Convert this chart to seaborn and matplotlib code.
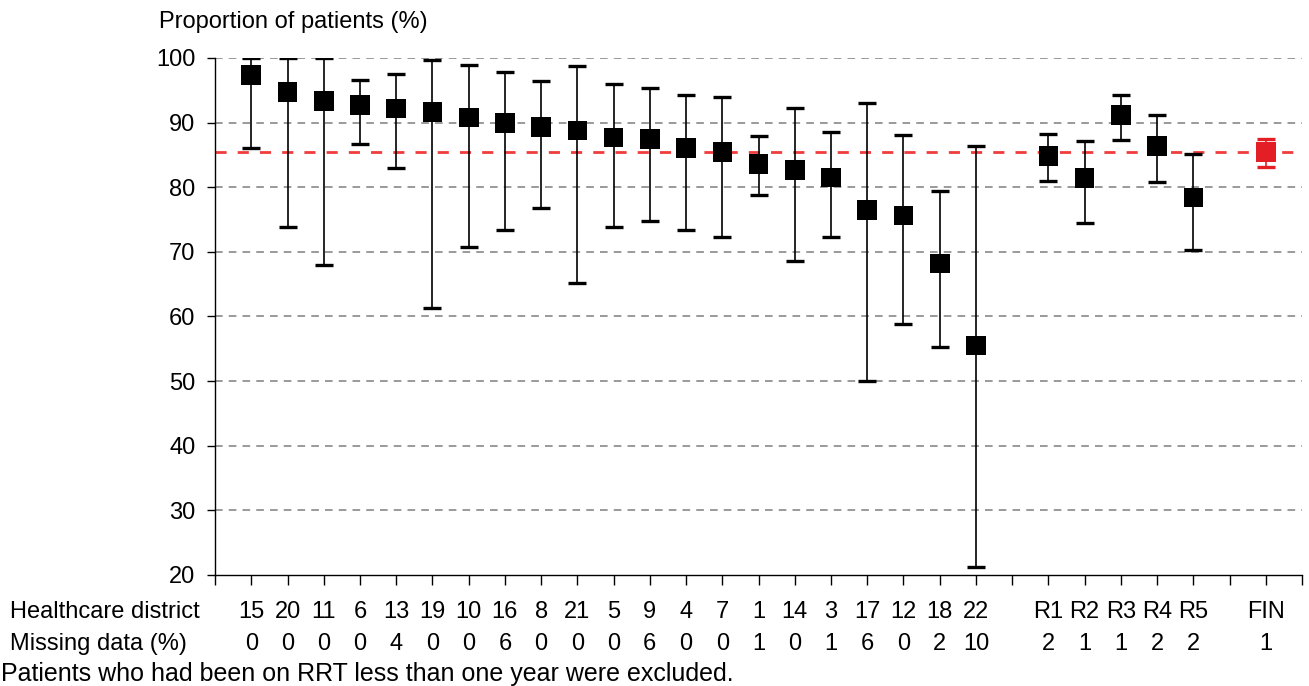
import pandas as pd
import matplotlib
matplotlib.use('Agg')
import matplotlib.pyplot as plt
import matplotlib.transforms as mtransforms
import seaborn as sns

# data
districts = ['15', '20', '11', '6', '13', '19', '10', '16', '8', '21', '5',
             '9', '4', '7', '1', '14', '3', '17', '12', '18', '22']
regions = ['R1', 'R2', 'R3', 'R4', 'R5']
missing_districts = [0, 0, 0, 0, 4, 0, 0, 6, 0, 0, 0, 6, 0, 0, 1, 0, 1, 6, 0, 2, 10]
missing_regions = [2, 1, 1, 2, 2]
missing_fin = 1

mean_districts = [97.4, 94.7, 93.3, 92.7, 92.2, 91.6, 90.8, 89.9, 89.3, 88.8, 87.7,
                  87.5, 86.1, 85.4, 83.6, 82.7, 81.5, 76.5, 75.6, 68.2, 55.5]
low_districts = [86.1, 73.9, 68.0, 86.7, 82.9, 61.3, 70.7, 73.4, 76.8, 65.2, 73.8,
                 74.7, 73.4, 72.3, 78.8, 68.6, 72.3, 50.0, 58.8, 55.3, 21.2]
high_districts = [100.0, 100.0, 100.0, 96.6, 97.5, 99.7, 98.9, 97.9, 96.5, 98.7, 95.9,
                  95.3, 94.2, 93.9, 87.9, 92.2, 88.6, 93.1, 88.1, 79.4, 86.3]

mean_regions = [84.8, 81.4, 91.2, 86.4, 78.4]
low_regions = [80.9, 74.4, 87.3, 80.8, 70.3]
high_regions = [88.3, 87.1, 94.2, 91.1, 85.1]

mean_fin = 85.4
low_fin = 83.2
high_fin = 87.5

# positions on the category axis (gaps between the groups)
pos_districts = list(range(1, 22))
pos_regions = list(range(23, 28))
pos_fin = 29

df = pd.DataFrame({
    'pos': pos_districts + pos_regions,
    'label': districts + regions,
    'missing': missing_districts + missing_regions,
    'mean': mean_districts + mean_regions,
    'low': low_districts + low_regions,
    'high': high_districts + high_regions,
})
fin = pd.DataFrame({'pos': [pos_fin], 'label': ['FIN'], 'missing': [missing_fin],
                    'mean': [mean_fin], 'low': [low_fin], 'high': [high_fin]})

sns.set_style('white')
plt.rcParams['font.family'] = ['Liberation Sans', 'DejaVu Sans']
plt.rcParams['text.color'] = 'black'
plt.rcParams['xtick.color'] = 'black'
plt.rcParams['ytick.color'] = 'black'

FS = 17

fig = plt.figure(figsize=(13.09, 6.86), dpi=100)
ax = fig.add_axes([0.1643, 0.162, 0.8304, 0.7535])

# gridlines
for v in range(30, 101, 10):
    ax.axhline(v, color='#7f7f7f', lw=1.1, ls=(0, (5, 4)), zorder=1)

# reference line (whole country)
ax.axhline(mean_fin, color='#f03c3c', lw=2, ls=(0, (4, 4)), zorder=2)

red = '#e31e24'
ax.errorbar(df['pos'], df['mean'],
            yerr=[df['mean'] - df['low'], df['high'] - df['mean']],
            fmt='none', ecolor='black', elinewidth=1.2, capsize=6.7, capthick=2.4, zorder=3)
ax.errorbar(fin['pos'], fin['mean'],
            yerr=[fin['mean'] - fin['low'], fin['high'] - fin['mean']],
            fmt='none', ecolor=red, elinewidth=1.2, capsize=6.7, capthick=2.4, zorder=3)

sns.scatterplot(data=df, x='pos', y='mean', marker='s', s=200, color='black',
                edgecolor='none', linewidth=0, ax=ax, zorder=4, legend=False)
sns.scatterplot(data=fin, x='pos', y='mean', marker='s', s=200, color=red,
                edgecolor='none', linewidth=0, ax=ax, zorder=4, legend=False)

ax.set_xlim(0, 30)
ax.set_ylim(20, 100)
ax.set_yticks(range(20, 101, 10))
ax.set_xticks(range(0, 31))
ax.set_xticklabels([])
ax.set_xlabel('')
ax.set_ylabel('')
ax.tick_params(axis='y', which='both', direction='out', length=6, width=1,
               labelsize=FS, left=True, pad=8)
ax.tick_params(axis='x', which='both', direction='out', length=7, width=1,
               bottom=True)
for side in ['top', 'right']:
    ax.spines[side].set_visible(False)
for side in ['left', 'bottom']:
    ax.spines[side].set_color('black')
    ax.spines[side].set_linewidth(1)

# labels under the axis
trans = mtransforms.blended_transform_factory(ax.transData, fig.transFigure)
all_rows = pd.concat([df, fin], ignore_index=True)
for _, r in all_rows.iterrows():
    ax.text(r['pos'], 0.108, r['label'], transform=trans, ha='center', va='center',
            fontsize=FS)
    ax.text(r['pos'], 0.061, str(r['missing']), transform=trans, ha='center',
            va='center', fontsize=FS)

fig.text(0.0076, 0.108, 'Healthcare district', ha='left', va='center', fontsize=FS)
fig.text(0.0076, 0.061, 'Missing data (%)', ha='left', va='center', fontsize=FS)
fig.text(0.001, 0.017, 'Patients who had been on RRT less than one year were excluded.',
         ha='left', va='center', fontsize=18)
fig.text(0.1215, 0.968, 'Proportion of patients (%)', ha='left', va='center', fontsize=FS)

fig.savefig('out.png', dpi=100)
plt.close(fig)
